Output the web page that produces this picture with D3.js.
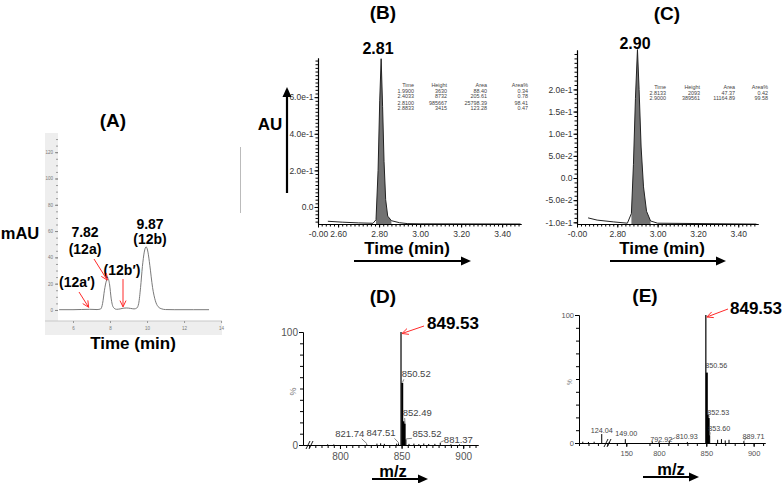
<!DOCTYPE html>
<html><head><meta charset="utf-8">
<script src="https://cdn.jsdelivr.net/npm/d3@7"></script>
<style>
body{margin:0;background:#fff}
svg{display:block}
text{font-family:"Liberation Sans",Arial,Helvetica,sans-serif}
</style>
</head><body>
<svg id="c" width="784" height="483"></svg>
<script>
// ---------------- DATA ----------------
// Panel A: HPLC chromatogram (time min, mAU)
const aTime = [5.25, 6.0, 6.9, 7.3, 7.5, 7.6, 7.7, 7.8, 7.89, 7.98, 8.06, 8.18, 8.35, 8.55, 8.75, 8.9, 9.1, 9.3, 9.45, 9.55, 9.65, 9.75, 9.85, 9.95, 10.05, 10.15, 10.3, 10.45, 10.6, 10.8, 11.0, 11.5, 12.5, 13.35];
const aMAU  = [0.2, 0.2, 0.5, 0.3, 0.8, 5, 15, 22, 24, 19, 9, 2, 0.5, 0.8, 1.4, 1.5, 1.2, 0.8, 1.5, 5, 17, 33, 44, 48, 44, 34, 17, 7, 2.5, 0.8, 0.3, 0.2, 0.2, 0.2];
const aYTicks = [0, 20, 40, 60, 80, 100, 120];
const aXTicks = [6, 8, 10, 12, 14];

// Panel B: UPLC chromatogram (time, AU)
const bTime = [2.55, 2.62, 2.70, 2.77, 2.785, 2.795, 2.803, 2.81, 2.817, 2.824, 2.832, 2.842, 2.86, 2.90, 2.94, 3.0, 3.49];
const bAU   = [-0.078, -0.083, -0.087, -0.089, -0.07, 0.2, 0.58, 0.81, 0.55, 0.25, 0.04, -0.05, -0.075, -0.086, -0.091, -0.092, -0.093];
const bYTicks = [0, 0.2, 0.4, 0.6];
const bYLabels = ["0.0", "2.0e-1", "4.0e-1", "6.0e-1"];
const bXTicks = [2.502, 2.6, 2.8, 3.0, 3.2, 3.4];
const bXLabels = ["-0.00", "2.60", "2.80", "3.00", "3.20", "3.40"];
const bTableHead = ["Time", "Height", "Area", "Area%"];
const bTableRows = [["1.9900", "3630", "88.40", "0.34"], ["2.4033", "8732", "205.61", "0.78"], ["2.8100", "985667", "25798.39", "98.41"], ["2.8833", "3415", "123.28", "0.47"]];

// Panel C
const cTime = [2.655, 2.70, 2.78, 2.85, 2.87, 2.88, 2.89, 2.90, 2.908, 2.918, 2.93, 2.945, 2.965, 3.0, 3.49];
const cAU   = [-0.090, -0.095, -0.099, -0.102, -0.08, 0.03, 0.18, 0.29, 0.2, 0.07, -0.02, -0.075, -0.097, -0.102, -0.104];
const cYTicks = [-0.1, -0.05, 0, 0.05, 0.1, 0.15, 0.2];
const cYLabels = ["-1.0e-1", "-5.0e-2", "0.0", "5.0e-2", "1.0e-1", "1.5e-1", "2.0e-1"];
const cXTicks = [2.6, 2.8, 3.0, 3.2, 3.4];
const cXLabels = ["-0.00", "2.80", "3.00", "3.20", "3.40"];
const cTableHead = ["Time", "Height", "Area", "Area%"];
const cTableRows = [["2.8133", "2093", "47.37", "0.42"], ["2.9000", "389561", "11164.89", "99.58"]];

// Panel D: mass spectrum (m/z, %)
const dMz  = [790, 795, 821.74, 830, 833, 836, 846, 847.51, 849.53, 850.52, 851.50, 852.49, 853.52, 856, 860, 864, 868, 872, 877, 881.37, 890, 897];
const dInt = [0.6, 0.5, 0.6, 1.2, 1.5, 1.0, 1.2, 1.4, 100, 55, 21, 19, 5, 1.0, 1.2, 0.8, 1.3, 0.9, 1.0, 2.0, 0.6, 0.5];
const dLabels = ["821.74", "847.51", "850.52", "852.49", "853.52", "881.37"];
const dXTicks = [800, 850, 900];

// Panel E: mass spectrum (m/z, %)
const eMz  = [104, 110, 116, 124.04, 132, 149.00, 792.92, 800, 810.93, 830, 849.53, 850.56, 851.55, 852.53, 853.60, 862, 866, 870, 874, 889.71];
const eInt = [1.0, 0.8, 1.0, 7, 0.8, 3, 1.2, 0.8, 1.5, 0.8, 100, 55, 22, 19.5, 6, 2.5, 3, 2, 2.5, 1.5];
const eLabels = ["124.04", "149.00", "792.92", "810.93", "850.56", "852.53", "853.60", "889.71"];
const eXTicks = [150, 800, 850, 900];

// ---------------- DRAWING ----------------
const svg = d3.select("#c");

function txt(x, y, s, size, o = {}) {
  return svg.append("text").attr("x", x).attr("y", y).text(s)
    .attr("font-size", size).attr("font-weight", o.bold ? "bold" : "normal")
    .attr("fill", o.fill || "#000").attr("text-anchor", o.anchor || "middle")
    .attr("transform", o.rot ? `rotate(${o.rot},${x},${y})` : null);
}
function line(x1, y1, x2, y2, col, w) {
  return svg.append("line").attr("x1", x1).attr("y1", y1).attr("x2", x2).attr("y2", y2)
    .attr("stroke", col).attr("stroke-width", w);
}
function blackArrow(x1, y1, x2, y2) {
  const a = Math.atan2(y2 - y1, x2 - x1), L = 10, W = 4.5;
  const bx = x2 - L * Math.cos(a), by = y2 - L * Math.sin(a);
  line(x1, y1, bx, by, "#000", 2.2);
  svg.append("path").attr("d", `M${x2},${y2}L${bx - W * Math.sin(a)},${by + W * Math.cos(a)}L${bx + W * Math.sin(a)},${by - W * Math.cos(a)}Z`).attr("fill", "#000");
}
function redArrow(x1, y1, x2, y2) {
  const a = Math.atan2(y2 - y1, x2 - x1), L = 7, s = 0.45;
  line(x1, y1, x2, y2, "#ff2a2a", 1);
  svg.append("path").attr("d", `M${x2 - L * Math.cos(a - s)},${y2 - L * Math.sin(a - s)}L${x2},${y2}L${x2 - L * Math.cos(a + s)},${y2 - L * Math.sin(a + s)}`)
    .attr("fill", "none").attr("stroke", "#ff2a2a").attr("stroke-width", 1);
}
function styleAxis(g, size, col) {
  g.select(".domain").attr("stroke", "#000");
  g.selectAll(".tick line").attr("stroke", "#000");
  g.selectAll("text").attr("font-size", size).attr("fill", col)
    .attr("font-family", '"Liberation Sans",Arial,sans-serif');
}
function range(a, b, step) { const r = []; for (let v = a; v <= b + 1e-9; v += step) r.push(+v.toFixed(4)); return r; }

// ----- Panel A -----
(function () {
  const x = d3.scaleLinear().domain([5.19, 14.05]).range([58, 222]);
  const y = d3.scaleLinear().domain([-8.4, 134.6]).range([321, 133]);
  svg.append("rect").attr("x", 45).attr("y", 133).attr("width", 177).attr("height", 202).attr("fill", "#eeeeee");
  svg.append("rect").attr("x", 58).attr("y", 133).attr("width", 164).attr("height", 188).attr("fill", "#fff");
  line(45, 321, 222, 321, "#c8c8c8", 1);
  const gy = svg.append("g").attr("transform", "translate(58,0)")
    .call(d3.axisLeft(y).tickValues(range(0, 130, 5)).tickSize(2).tickFormat(""));
  gy.select(".domain").remove(); gy.selectAll("line").attr("stroke", "#999");
  const gy2 = svg.append("g").attr("transform", "translate(58,0)")
    .call(d3.axisLeft(y).tickValues(aYTicks).tickSize(3).tickPadding(2));
  gy2.select(".domain").remove(); gy2.selectAll("line").attr("stroke", "#888");
  gy2.selectAll("text").attr("font-size", 4.5).attr("fill", "#777");
  const gx = svg.append("g").attr("transform", "translate(0,321)")
    .call(d3.axisBottom(x).tickValues(aXTicks).tickSize(2).tickPadding(4));
  gx.select(".domain").remove(); gx.selectAll("line").attr("stroke", "#999");
  gx.selectAll("text").attr("font-size", 4.5).attr("fill", "#777");
  svg.append("path").datum(aTime.map((t, i) => [t, aMAU[i]]))
    .attr("d", d3.line().x(d => x(d[0])).y(d => y(d[1])).curve(d3.curveMonotoneX))
    .attr("fill", "none").attr("stroke", "#6a6a6a").attr("stroke-width", 0.9);

  txt(113, 127, "(A)", 19, { bold: true });
  txt(20, 239, "mAU", 16.5, { bold: true });
  txt(85, 237, "7.82", 14, { bold: true });
  txt(85, 254, "(12a)", 14, { bold: true });
  txt(150, 229, "9.87", 14, { bold: true });
  txt(150, 244, "(12b)", 14, { bold: true });
  txt(122, 275, "(12b′)", 14, { bold: true });
  txt(77, 287, "(12a′)", 14, { bold: true });
  txt(133, 349, "Time (min)", 17, { bold: true });
  redArrow(94, 259, x(7.85), y(25) + 3);
  redArrow(79, 292, x(6.9) - 1, y(0.5) - 2);
  redArrow(123, 279, 123, y(1.6) - 1);
})();

// ----- Chromatogram panels B & C -----
function chrom(p) {
  const x = d3.scaleLinear().domain(p.xDom).range(p.xRange);
  const y = d3.scaleLinear().domain(p.yDom).range(p.yRange);
  const y0 = p.yRange[0];
  const pts = p.time.map((t, i) => [t, p.val[i]]);
  const peak = pts.filter(d => d[0] >= p.fill[0] && d[0] <= p.fill[1]);
  svg.append("path").datum(peak)
    .attr("d", d3.area().x(d => x(d[0])).y0(y0).y1(d => y(d[1])))
    .attr("fill", "#727272");
  svg.append("path").datum(pts)
    .attr("d", d3.line().x(d => x(d[0])).y(d => y(d[1])))
    .attr("fill", "none").attr("stroke", "#222").attr("stroke-width", 1);
  const gxm = svg.append("g").attr("transform", `translate(0,${y0})`)
    .call(d3.axisBottom(x).tickValues(p.xMinor).tickSize(2.5).tickSizeOuter(0).tickFormat(""));
  styleAxis(gxm, 8, "#333");
  const gx = svg.append("g").attr("transform", `translate(0,${y0})`)
    .call(d3.axisBottom(x).tickValues(p.xTicks).tickSize(3.5).tickSizeOuter(0).tickPadding(3)
      .tickFormat((d, i) => p.xLabels[i]));
  styleAxis(gx, 8.5, "#333");
  gx.select(".domain").attr("stroke-width", 1.2);
  const gym = svg.append("g").attr("transform", `translate(${p.xRange[0]},0)`)
    .call(d3.axisLeft(y).tickValues(p.yMinor).tickSize(2.5).tickSizeOuter(0).tickFormat(""));
  styleAxis(gym, 8, "#333");
  const gy = svg.append("g").attr("transform", `translate(${p.xRange[0]},0)`)
    .call(d3.axisLeft(y).tickValues(p.yTicks).tickSize(3.5).tickSizeOuter(0).tickPadding(1)
      .tickFormat((d, i) => p.yLabels[i]));
  styleAxis(gy, 8.5, "#333");
  gy.select(".domain").attr("stroke-width", 1.2);
  p.cols.forEach((cx, j) => {
    txt(cx, p.tableY, p.head[j], 5.4, { anchor: "end", fill: "#444" });
    p.rows.forEach((r, i) => txt(cx, p.tableY + 5.6 * (i + 1) + (p.gap && i >= 2 ? 0.8 : 0), r[j], 5.4, { anchor: "end", fill: "#444" }));
  });
  return { x, y };
}

const B = chrom({
  time: bTime, val: bAU, fill: [2.78, 2.87],
  xDom: [2.502, 3.492], xRange: [318, 521], yDom: [-0.093, 0.814], yRange: [224, 58],
  xTicks: bXTicks, xLabels: bXLabels, xMinor: range(2.52, 3.48, 0.02),
  yTicks: bYTicks, yLabels: bYLabels, yMinor: range(-0.08, 0.8, 0.02),
  head: bTableHead, rows: bTableRows, cols: [414, 447, 487, 528], tableY: 87, gap: true
});
txt(383, 19, "(B)", 19, { bold: true });
txt(378, 54, "2.81", 16, { bold: true });
txt(270, 130, "AU", 17, { bold: true });
blackArrow(287, 193, 287, 87);
txt(407, 254, "Time (min)", 17, { bold: true });
blackArrow(354, 261, 471, 261);
line(240.5, 147, 240.5, 213, "#aaa", 0.8);

const C = chrom({
  time: cTime, val: cAU, fill: [2.852, 2.97],
  xDom: [2.6, 3.498], xRange: [577, 758], yDom: [-0.1038, 0.289], yRange: [224, 50],
  xTicks: cXTicks, xLabels: cXLabels, xMinor: range(2.62, 3.48, 0.02),
  yTicks: cYTicks, yLabels: cYLabels, yMinor: range(-0.1, 0.28, 0.01),
  head: cTableHead, rows: cTableRows, cols: [666, 700, 735, 768], tableY: 89
});
txt(667, 20, "(C)", 19, { bold: true });
txt(635, 49, "2.90", 16, { bold: true });
txt(662, 254, "Time (min)", 17, { bold: true });
blackArrow(610, 261, 726, 261);

// ----- Spectrum panels D & E -----
function spectrum(p) {
  const x = d3.scaleLinear().domain(p.xDom).range(p.xRange);
  const y = d3.scaleLinear().domain([0, 100]).range(p.yRange);
  const y0 = p.yRange[0];
  const gym = svg.append("g").attr("transform", `translate(${p.xRange[0]},0)`)
    .call(d3.axisLeft(y).tickValues(range(10, 90, 10)).tickSize(3).tickSizeOuter(0).tickFormat(""));
  styleAxis(gym, 8, "#444");
  const gy = svg.append("g").attr("transform", `translate(${p.xRange[0]},0)`)
    .call(d3.axisLeft(y).tickValues([0, 100]).tickSize(4).tickSizeOuter(0).tickPadding(1));
  styleAxis(gy, p.tickFont, "#555");
  const gxm = svg.append("g").attr("transform", `translate(0,${y0})`)
    .call(d3.axisBottom(x).tickValues(p.xMinor).tickSize(3).tickSizeOuter(0).tickFormat(""));
  styleAxis(gxm, 8, "#444");
  const gx = svg.append("g").attr("transform", `translate(0,${y0})`)
    .call(d3.axisBottom(x).tickValues(p.xTicks).tickSize(4).tickSizeOuter(0).tickPadding(4));
  styleAxis(gx, p.tickFont, "#555");
  p.mz.forEach((m, i) => {
    const w = (m > 850 && m < 853) ? 2 : (p.int[i] >= 99 ? 1.2 : 1);
    line(x(m), y0, x(m), y(p.int[i]), "#000", w);
  });
  p.labels.forEach((lab, k) => {
    const i = p.mz.findIndex(m => m.toFixed(2) === lab);
    const px = x(p.mz[i]), py = y(p.int[i]);
    const o = p.lay[k];
    txt(px + o[0], py + o[1], lab, p.labFont, { anchor: o[2], fill: "#444" });
    if (o[3] !== null) line(px + o[3], py + o[4], px + 0.3, py - 0.5, "#555", 0.7);
  });
  const bx = p.breakX;
  line(bx - 3, y0 + 4, bx + 1, y0 - 4, "#000", 0.9);
  line(bx, y0 + 4, bx + 4, y0 - 4, "#000", 0.9);
  txt(p.xRange[0] - 7, (y(0) + y(100)) / 2 + 3, "%", p.tickFont - 1, { fill: "#777", rot: -90 });
  return { x, y };
}

const D = spectrum({
  mz: dMz, int: dInt, labels: dLabels,
  xDom: [770, 912], xRange: [303, 478], yRange: [445, 332],
  xTicks: dXTicks, xMinor: range(775, 910, 5), breakX: 309,
  tickFont: 10, labFont: 9.5,
  lay: [
    [-2.5, -7.5, "end", -5, -5.5],
    [-3, -7, "end", -4, -5],
    [-0.6, -6, "start", 1.6, -3.5],
    [-2, -8, "start", 0, -5.5],
    [6.5, -2.5, "start", 6, -1],
    [3.6, 0.3, "start", 3.5, -2]
  ]
});
txt(383, 303, "(D)", 19, { bold: true });
txt(453, 329, "849.53", 17, { bold: true });
redArrow(424, 326, D.x(849.53) + 1, D.y(100) + 1.5);
txt(393, 477, "m/z", 16.5, { bold: true });
blackArrow(372, 479, 428, 479);

const E = spectrum({
  mz: eMz, int: eInt, labels: eLabels,
  xDom: [100, 155, 780, 912], xRange: [579, 631, 640, 765], yRange: [443, 315],
  xTicks: eXTicks, xMinor: range(100, 150, 10).concat(range(790, 910, 10)), breakX: 607,
  tickFont: 7.5, labFont: 7.2,
  lay: [
    [0, -1.5, "middle", null, null],
    [-10, -3.5, "start", null, null],
    [-2, 0.5, "start", null, null],
    [6.5, -2.5, "start", 6, -3.5],
    [-1.5, -4.5, "start", null, null],
    [-1.5, -3, "start", 0.5, -2.5],
    [-1.5, -4, "start", 0.5, -3],
    [-1.5, -2.5, "start", 3, -4]
  ]
});
txt(645, 302, "(E)", 19, { bold: true });
txt(756, 314, "849.53", 17, { bold: true });
redArrow(728, 309, E.x(849.53) + 1, E.y(100) + 2);
txt(671, 475, "m/z", 16.5, { bold: true });
blackArrow(643, 477, 699, 477);
</script>
</body></html>
